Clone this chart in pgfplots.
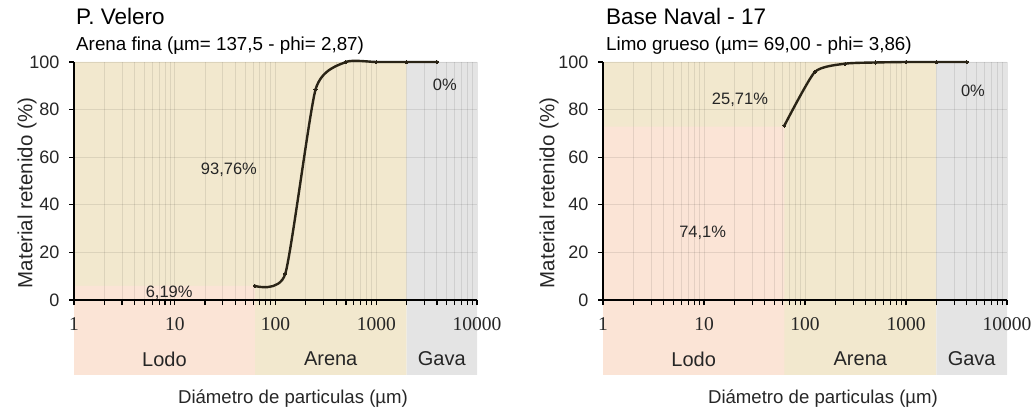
\documentclass[border=0pt]{standalone}
\usepackage{pgfplots}
\pgfplotsset{compat=1.18}
\usepackage{fontspec}
\setmainfont{Liberation Sans}
\newfontfamily\timesf{Liberation Serif}

\definecolor{beige}{HTML}{F2E8CE}
\definecolor{rosa}{HTML}{FBE4D6}
\definecolor{gris}{HTML}{E4E4E4}
\definecolor{curvacol}{HTML}{2A2416}

\tikzset{
  pct/.style={font=\fontsize{16.5}{18}\selectfont, text=black!85},
  zona/.style={font=\fontsize{20}{22}\selectfont, text=black!85},
}

\begin{document}
\begin{tikzpicture}
\path[use as bounding box] (0,0) rectangle (1034pt,410pt);

% ---- P. Velero: zonas ----
\begin{semilogxaxis}[scale only axis, width=403pt, height=238pt, at={(74pt,110pt)}, anchor=south west,
  xmin=1, xmax=10000, ymin=0, ymax=100, clip=false, hide axis]
\addplot[draw=none, fill=beige] coordinates {(1,-31.5) (2000,-31.5) (2000,100) (1,100) (1,-31.5)};
\addplot[draw=none, fill=gris] coordinates {(2000,-31.5) (10000,-31.5) (10000,100) (2000,100) (2000,-31.5)};
\addplot[draw=none, fill=rosa] coordinates {(1,-31.5) (62.5,-31.5) (62.5,5.9) (1,5.9) (1,-31.5)};
\end{semilogxaxis}
% ---- P. Velero: curva ----
\begin{semilogxaxis}[scale only axis, width=403pt, height=238pt, at={(74pt,110pt)}, anchor=south west,
    xmin=1, xmax=10000, ymin=0, ymax=100, clip=false,
    axis x line=bottom, axis y line=left,
    axis line style={-, black, line width=1.6pt},
    xtick={1,10,100,1000,10000},
    xticklabels={1,10,100,1000,10000},
    minor xtick={2,3,4,5,6,7,8,9,20,30,40,50,60,70,80,90,200,300,400,500,600,700,800,900,2000,3000,4000,5000,6000,7000,8000,9000},
    ytick={0,20,40,60,80,100},
    /pgf/number format/assume math mode=true,
    tick align=outside,
    major tick length=5pt, minor tick length=5pt,
    tick style={black, line width=1.2pt},
    xmajorgrids, xminorgrids, ymajorgrids,
    major grid style={black, opacity=0.09, line width=0.9pt},
    minor grid style={black, opacity=0.09, line width=0.9pt},
    xticklabel style={font=\timesf\fontsize{19.5}{20}\selectfont, anchor=center, yshift=-19pt, text=black!85},
    yticklabel style={font=\fontsize{18}{20}\selectfont, anchor=east, xshift=-6pt, text=black!85}]
\addplot[curvacol, line width=2.4pt, smooth, tension=0.35, mark=*, mark size=1.6pt, mark options={fill=curvacol, draw=curvacol, line width=0pt}] coordinates {
  (62.5,5.9) (125,11) (250,88.5) (500,100) (1000,100) (2000,100) (4000,100)
};
\node[pct] at (axis cs:34.5,54.6) {93,76\%};
\node[pct] at (axis cs:8.8,2.9) {6,19\%};
\node[pct] at (axis cs:4800,90.3) {0\%};
\node[zona] at (axis cs:7.9,-24.8) {Lodo};
\node[zona] at (axis cs:353,-24.8) {Arena};
\node[zona] at (axis cs:4472,-24.8) {Gava};
\end{semilogxaxis}

% ---- Base Naval - 17: zonas ----
\begin{semilogxaxis}[scale only axis, width=404pt, height=238pt, at={(603pt,110pt)}, anchor=south west,
  xmin=1, xmax=10000, ymin=0, ymax=100, clip=false, hide axis]
\addplot[draw=none, fill=beige] coordinates {(1,-31.5) (2000,-31.5) (2000,100) (1,100) (1,-31.5)};
\addplot[draw=none, fill=gris] coordinates {(2000,-31.5) (10000,-31.5) (10000,100) (2000,100) (2000,-31.5)};
\addplot[draw=none, fill=rosa] coordinates {(1,-31.5) (62.5,-31.5) (62.5,72.8) (1,72.8) (1,-31.5)};
\end{semilogxaxis}
% ---- Base Naval - 17: curva ----
\begin{semilogxaxis}[scale only axis, width=404pt, height=238pt, at={(603pt,110pt)}, anchor=south west,
    xmin=1, xmax=10000, ymin=0, ymax=100, clip=false,
    axis x line=bottom, axis y line=left,
    axis line style={-, black, line width=1.6pt},
    xtick={1,10,100,1000,10000},
    xticklabels={1,10,100,1000,10000},
    minor xtick={2,3,4,5,6,7,8,9,20,30,40,50,60,70,80,90,200,300,400,500,600,700,800,900,2000,3000,4000,5000,6000,7000,8000,9000},
    ytick={0,20,40,60,80,100},
    /pgf/number format/assume math mode=true,
    tick align=outside,
    major tick length=5pt, minor tick length=5pt,
    tick style={black, line width=1.2pt},
    xmajorgrids, xminorgrids, ymajorgrids,
    major grid style={black, opacity=0.09, line width=0.9pt},
    minor grid style={black, opacity=0.09, line width=0.9pt},
    xticklabel style={font=\timesf\fontsize{19.5}{20}\selectfont, anchor=center, yshift=-19pt, text=black!85},
    yticklabel style={font=\fontsize{18}{20}\selectfont, anchor=east, xshift=-6pt, text=black!85}]
\addplot[curvacol, line width=2.4pt, smooth, tension=0.35, mark=*, mark size=1.6pt, mark options={fill=curvacol, draw=curvacol, line width=0pt}] coordinates {
  (62.5,73.3) (125,95.8) (250,99.3) (500,99.8) (1000,100) (2000,100) (4000,100)
};
\node[pct] at (axis cs:22.7,84.2) {25,71\%};
\node[pct] at (axis cs:9.7,28.2) {74,1\%};
\node[pct] at (axis cs:4600,87.7) {0\%};
\node[zona] at (axis cs:7.9,-24.8) {Lodo};
\node[zona] at (axis cs:353,-24.8) {Arena};
\node[zona] at (axis cs:4472,-24.8) {Gava};
\end{semilogxaxis}

% titulos y rotulos
\node[anchor=base west, inner sep=0pt, font=\fontsize{22.5}{26}\selectfont] at (76pt,385pt) {P. Velero};
\node[anchor=base west, inner sep=0pt, font=\fontsize{18.8}{22}\selectfont] at (76pt,359pt) {Arena fina (µm= 137,5 - phi= 2,87)};
\node[anchor=base west, inner sep=0pt, font=\fontsize{22.5}{26}\selectfont] at (606pt,385pt) {Base Naval - 17};
\node[anchor=base west, inner sep=0pt, font=\fontsize{18.8}{22}\selectfont] at (606pt,359pt) {Limo grueso (µm= 69,00 - phi= 3,86)};

\node[rotate=90, font=\fontsize{20.5}{22}\selectfont, text=black!85] at (27pt,217pt) {Material retenido (\%)};
\node[rotate=90, font=\fontsize{20.5}{22}\selectfont, text=black!85] at (549pt,217pt) {Material retenido (\%)};
\node[font=\fontsize{18.6}{21}\selectfont, text=black!85] at (293pt,11pt) {Diámetro de particulas (µm)};
\node[font=\fontsize{18.6}{21}\selectfont, text=black!85] at (823pt,11pt) {Diámetro de particulas (µm)};
\end{tikzpicture}
\end{document}
